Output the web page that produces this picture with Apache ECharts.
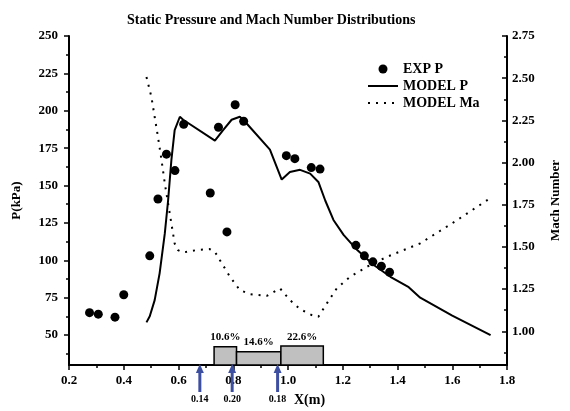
<!DOCTYPE html>
<html>
<head>
<meta charset="utf-8">
<script src="https://cdn.jsdelivr.net/npm/echarts@6/dist/echarts.min.js"></script>
<style>
  html, body { margin: 0; padding: 0; background: #fff; }
  #main { width: 570px; height: 411px; }
</style>
</head>
<body>
<div id="main"></div>
<script>
  // experimental pressure points
  var expX = [0.275, 0.307, 0.368, 0.400, 0.495, 0.525, 0.556, 0.587, 0.619, 0.716, 0.746, 0.777,
              0.807, 0.838, 0.994, 1.025, 1.085, 1.117, 1.248, 1.279, 1.310, 1.341, 1.371];
  var expP = [65, 64, 62, 77, 103, 141, 171, 160, 191, 145, 189, 119,
              204, 193, 170, 168, 162, 161, 110, 103, 99, 96, 92];

  // model pressure curve
  var modelPX = [0.483, 0.495, 0.513, 0.531, 0.550, 0.562, 0.574, 0.586, 0.605, 0.617, 0.733, 0.763,
                 0.794, 0.824, 0.849, 0.934, 0.977, 1.007, 1.044, 1.081, 1.111, 1.136, 1.166, 1.203,
                 1.252, 1.312, 1.374, 1.441, 1.483, 1.600, 1.740];
  var modelP = [58.5, 62.6, 73.4, 91.3, 118, 140, 167, 187, 196, 194, 180, 187,
                194, 196, 191.5, 174, 154, 159, 160.5, 158, 152.4, 140, 127, 117,
                107, 97, 89, 82, 75, 63, 50];

  // model mach number curve
  var modelMaX = [0.483, 0.501, 0.513, 0.525, 0.538, 0.550, 0.562, 0.574, 0.586, 0.598, 0.617, 0.666,
                  0.714, 0.733, 0.751, 0.788, 0.824, 0.861, 0.922, 0.971, 1.007, 1.044, 1.087, 1.111,
                  1.142, 1.178, 1.227, 1.288, 1.361, 1.422, 1.483, 1.600, 1.740];
  var modelMa = [2.507, 2.389, 2.270, 2.152, 2.014, 1.876, 1.757, 1.639, 1.520, 1.481, 1.467, 1.481,
                 1.487, 1.471, 1.422, 1.323, 1.244, 1.220, 1.209, 1.254, 1.185, 1.131, 1.096, 1.086,
                 1.165, 1.254, 1.323, 1.382, 1.441, 1.481, 1.521, 1.640, 1.790];

  // grey blocks at the bottom
  var boxStart = [0.730, 0.812, 0.974];
  var boxEnd = [0.812, 0.974, 1.129];
  var boxTop = [42.2, 38.9, 42.7];
  var boxLabels = ['10.6%', '14.6%', '22.6%'];

  // blue arrows below the axis
  var arrowX = [0.678, 0.796, 0.962];
  var arrowLabels = ['0.14', '0.20', '0.18'];

  // tick values
  var pTicks = [50, 75, 100, 125, 150, 175, 200, 225, 250];
  var pMinor = [37.5, 62.5, 87.5, 112.5, 137.5, 162.5, 187.5, 212.5, 237.5];
  var maTicks = [1.00, 1.25, 1.50, 1.75, 2.00, 2.25, 2.50, 2.75];
  var maMinor = [0.875, 1.125, 1.375, 1.625, 1.875, 2.125, 2.375, 2.625];

  var pMin = 30, pMax = 250, maMin = 0.8, maMax = 2.75;
  var FONT = '"Liberation Serif", "Times New Roman", serif';
  var BLUE = '#3d4fa1';

  var myChart = echarts.init(document.getElementById('main'));

  function zip(a, b) {
    return a.map(function (v, i) { return [v, b[i]]; });
  }

  var labelStyle = { color: '#000', fontFamily: FONT, fontWeight: 'bold', fontSize: 13 };

  var option = {
    animation: false,
    backgroundColor: '#fff',
    title: {
      text: 'Static Pressure and Mach Number Distributions',
      left: 122,
      top: 8,
      textStyle: { color: '#000', fontFamily: FONT, fontWeight: 'bold', fontSize: 14 }
    },
    legend: {
      orient: 'vertical',
      left: 362,
      top: 57,
      itemWidth: 30,
      itemHeight: 9,
      itemGap: 3,
      textStyle: { color: '#000', fontFamily: FONT, fontWeight: 'bold', fontSize: 14 },
      data: [
        { name: 'EXP P', icon: 'circle' },
        { name: 'MODEL P', itemStyle: { opacity: 0 } },
        { name: 'MODEL Ma', itemStyle: { opacity: 0 } }
      ]
    },
    grid: { left: 69, right: 62, top: 36, bottom: 46 },
    xAxis: {
      type: 'value',
      min: 0.2,
      max: 1.8,
      interval: 0.2,
      axisLine: { lineStyle: { color: '#000', width: 2 } },
      axisTick: { length: 5, lineStyle: { color: '#000', width: 1.5 } },
      minorTick: { show: true, splitNumber: 2, length: 3, lineStyle: { color: '#000', width: 1.5 } },
      splitLine: { show: false },
      axisLabel: Object.assign({ margin: 9, formatter: function (v) { return v.toFixed(1); } }, labelStyle)
    },
    yAxis: [{
      type: 'value',
      position: 'left',
      min: pMin,
      max: pMax,
      name: 'P(kPa)',
      nameLocation: 'middle',
      nameRotate: 90,
      nameGap: 46,
      nameTextStyle: labelStyle,
      axisLine: { show: true, lineStyle: { color: '#000', width: 2 } },
      axisTick: { show: true, length: 5, customValues: pTicks, lineStyle: { color: '#000', width: 1.5 } },
      splitLine: { show: false },
      axisLabel: Object.assign({ margin: 11, customValues: pTicks }, labelStyle)
    }, {
      type: 'value',
      position: 'right',
      min: maMin,
      max: maMax,
      name: 'Mach Number',
      nameLocation: 'middle',
      nameRotate: 90,
      nameGap: 42,
      nameTextStyle: labelStyle,
      axisLine: { show: true, lineStyle: { color: '#000', width: 2 } },
      axisTick: { show: true, inside: true, length: 5, customValues: maTicks, lineStyle: { color: '#000', width: 1.5 } },
      splitLine: { show: false },
      axisLabel: Object.assign({ margin: 5, customValues: maTicks,
        formatter: function (v) { return v.toFixed(2); } }, labelStyle)
    }, {
      type: 'value',
      position: 'left',
      min: pMin,
      max: pMax,
      axisLine: { show: false },
      axisTick: { show: true, length: 3, customValues: pMinor, lineStyle: { color: '#000', width: 1.5 } },
      axisLabel: { show: false },
      splitLine: { show: false }
    }, {
      type: 'value',
      position: 'right',
      min: maMin,
      max: maMax,
      axisLine: { show: false },
      axisTick: { show: true, inside: true, length: 3, customValues: maMinor, lineStyle: { color: '#000', width: 1.5 } },
      axisLabel: { show: false },
      splitLine: { show: false }
    }],
    graphic: [{
      type: 'text',
      left: 294,
      top: 393,
      style: { text: 'X(m)', fill: '#000', font: 'bold 14px ' + FONT }
    }],
    series: [{
      name: 'EXP P',
      type: 'scatter',
      yAxisIndex: 0,
      symbol: 'circle',
      symbolSize: 9,
      itemStyle: { color: '#000', opacity: 1 },
      data: zip(expX, expP),
      z: 5
    }, {
      name: 'MODEL P',
      type: 'line',
      yAxisIndex: 0,
      showSymbol: false,
      symbol: 'none',
      lineStyle: { color: '#000', width: 2 },
      itemStyle: { color: '#000' },
      data: zip(modelPX, modelP)
    }, {
      name: 'MODEL Ma',
      type: 'line',
      yAxisIndex: 1,
      showSymbol: false,
      symbol: 'none',
      lineStyle: { color: '#000', width: 2, type: [2, 6] },
      itemStyle: { color: '#000' },
      data: zip(modelMaX, modelMa)
    }, {
      type: 'custom',
      yAxisIndex: 0,
      encode: { x: [0, 1], y: 2 },
      data: boxStart.map(function (s, i) { return [s, boxEnd[i], boxTop[i]]; }),
      renderItem: function (params, api) {
        var p0 = api.coord([api.value(0), api.value(2)]);
        var p1 = api.coord([api.value(1), pMin]);
        return {
          type: 'rect',
          shape: { x: p0[0], y: p0[1], width: p1[0] - p0[0], height: p1[1] - p0[1] },
          style: { fill: '#c0c0c0', stroke: '#000', lineWidth: 1.5 },
          textContent: {
            style: { text: boxLabels[params.dataIndex], fill: '#000', font: 'bold 11px ' + FONT }
          },
          textConfig: { position: 'top', distance: 3 }
        };
      },
      z: 3
    }, {
      type: 'custom',
      yAxisIndex: 0,
      clip: false,
      encode: { x: 0, y: 1 },
      data: arrowX.map(function (x) { return [x, pMin]; }),
      renderItem: function (params, api) {
        var p = api.coord([api.value(0), pMin]);
        var x = p[0], y = p[1];
        return {
          type: 'group',
          children: [
            { type: 'rect', shape: { x: x - 1.5, y: y + 6, width: 3, height: 21 }, style: { fill: BLUE } },
            { type: 'polygon', shape: { points: [[x, y - 1], [x - 4, y + 8], [x + 4, y + 8]] }, style: { fill: BLUE } },
            { type: 'text', x: x, y: y + 34,
              style: { text: arrowLabels[params.dataIndex], fill: '#000', align: 'center',
                       verticalAlign: 'middle', font: 'bold 10px ' + FONT } }
          ]
        };
      },
      z: 10
    }]
  };

  myChart.setOption(option);
</script>
</body>
</html>
